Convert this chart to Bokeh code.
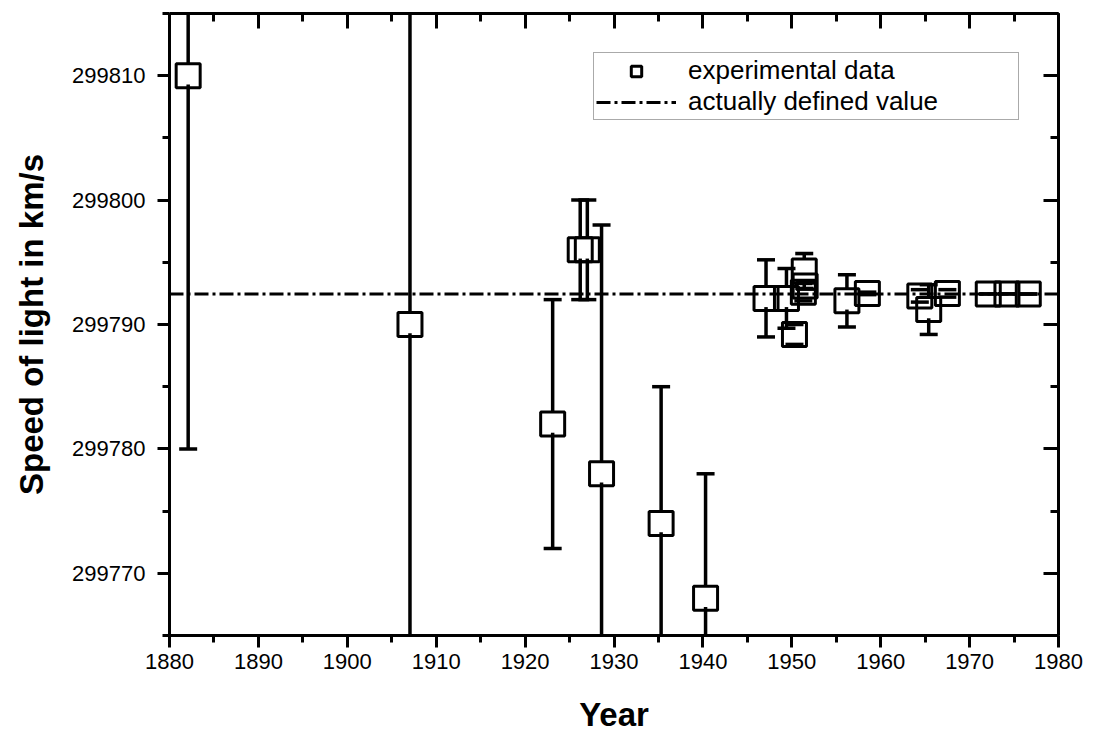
import numpy as np
from bokeh.plotting import figure
from bokeh.models import (LinearAxis, SingleIntervalTicker, NumeralTickFormatter,
                          Legend, LegendItem, Range1d)
from bokeh.embed import file_html
from bokeh.resources import INLINE

# ---------------- data ----------------
years = [1882.1, 1907.05, 1923.1, 1926.2, 1927.0, 1928.6, 1935.3, 1940.3,
         1947.1, 1949.4, 1950.3, 1951.3, 1951.4, 1951.5, 1956.2, 1958.5,
         1964.4, 1965.4, 1967.5, 1972.1, 1974.2, 1976.6]
speeds = [299810.0, 299790.0, 299782.0, 299796.0, 299796.0, 299778.0, 299774.0, 299768.0,
          299792.1, 299792.1, 299789.2, 299792.6, 299794.3, 299793.1, 299791.9, 299792.5,
          299792.3, 299791.2, 299792.5, 299792.456, 299792.459, 299792.459]
errors = [30.0, 30.0, 10.0, 4.0, 4.0, 20.0, 11.0, 10.0,
          3.1, 2.4, 0.8, 0.7, 1.4, 0.26, 2.1, 0.1,
          0.5, 2.0, 0.3, 0.001, 0.001, 0.0002]
defined_value = 299792.458
x_limits = [1880, 1980]
y_limits = [299765, 299815]
x_label = "Year"
y_label = "Speed of light in km/s"
legend_labels = ["experimental data", "actually defined value"]

FONT = "Liberation Sans"
HALF_UP = 1.0   # marker half-height (data units) where the upper bar starts
HALF_LO = 0.7   # lower bar starts slightly inside the marker, as in the reference

p = figure(width=1095, height=737, output_backend="svg", toolbar_location=None,
           x_range=Range1d(*x_limits), y_range=Range1d(*y_limits),
           min_border_left=169, min_border_right=37, min_border_top=13,
           min_border_bottom=102,
           x_axis_label=x_label, y_axis_label=y_label)
p.grid.visible = False
p.outline_line_color = None
p.background_fill_color = "white"
p.border_fill_color = "white"


def ticker():
    return SingleIntervalTicker(interval=10, num_minor_ticks=2)


for ax in (p.xaxis[0], p.yaxis[0]):
    ax.ticker = ticker()
    ax.axis_line_width = 3
    ax.major_tick_line_width = 3
    ax.minor_tick_line_width = 3
    ax.major_tick_in = 0
    ax.minor_tick_in = 0
    ax.major_tick_out = 12
    ax.minor_tick_out = 7
    ax.major_label_text_font = FONT
    ax.major_label_text_font_size = "22px"
    ax.major_label_text_color = "black"
    ax.axis_label_text_font = FONT
    ax.axis_label_text_font_size = "33px"
    ax.axis_label_text_font_style = "bold"
    ax.axis_label_text_color = "black"

p.xaxis[0].major_label_standoff = 6
p.xaxis[0].axis_label_standoff = 24
p.yaxis[0].major_label_standoff = 12
p.yaxis[0].axis_label_standoff = 19
p.yaxis[0].formatter = NumeralTickFormatter(format="0")

# mirrored tick-only axes on top and right (labels not drawn)
for side in ("above", "right"):
    ax = LinearAxis(ticker=ticker(), axis_line_width=3,
                    major_tick_line_width=3, minor_tick_line_width=3,
                    major_tick_in=15, major_tick_out=0,
                    minor_tick_in=8, minor_tick_out=0,
                    major_label_text_color=None,
                    major_label_text_font_size="1px", major_label_standoff=0)
    p.add_layout(ax, side)

# ---------------- glyphs ----------------
yrs = np.array(years)
v = np.array(speeds)
e = np.array(errors)

ln = p.line(x=x_limits, y=[defined_value, defined_value], line_color="black",
            line_width=3, line_dash="14 4 3 4")

up = e > HALF_UP
lo = e > HALF_LO
p.segment(x0=yrs[up], y0=v[up] + HALF_UP, x1=yrs[up], y1=v[up] + e[up],
          line_color="black", line_width=3.5)
p.segment(x0=yrs[lo], y0=v[lo] - HALF_LO, x1=yrs[lo], y1=v[lo] - e[lo],
          line_color="black", line_width=3.5)
p.scatter(x=np.concatenate([yrs, yrs]), y=np.concatenate([v + e, v - e]),
          marker="dash", size=18, line_color="black", line_width=3.5)

sq = p.scatter(x=yrs, y=v, marker="square", size=24, fill_color=None,
               line_color="black", line_width=3)

legend = Legend(items=[LegendItem(label=legend_labels[0], renderers=[sq]),
                       LegendItem(label=legend_labels[1], renderers=[ln])],
                location=(424, 515), orientation="vertical",
                label_text_font=FONT, label_text_font_size="26px",
                label_text_line_height=1.0,
                label_text_color="black",
                glyph_width=80, glyph_height=26, label_height=26,
                label_width=328,
                label_standoff=12, spacing=0, padding=2, margin=0,
                border_line_color="#555555", border_line_width=1.5,
                background_fill_color="white", background_fill_alpha=1.0)
p.add_layout(legend)

open("out.html", "w").write(file_html(p, INLINE))
